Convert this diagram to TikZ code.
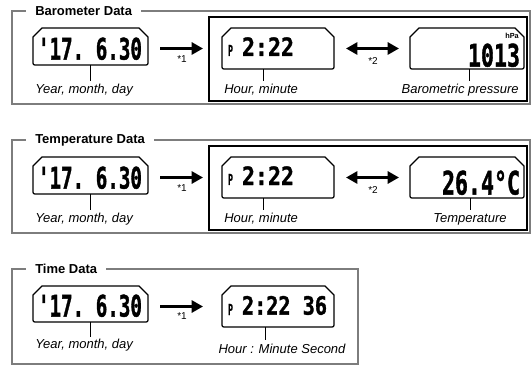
\documentclass[tikz,border=0pt]{standalone}
\usepackage{fontspec}
\usepackage{graphicx}
\setmainfont{Liberation Sans}
\newfontfamily\lcdf{DejaVu Sans Mono}[BoldFeatures={FakeBold=1.5}]
\usetikzlibrary{arrows.meta,calc,fit}
\definecolor{framegray}{RGB}{125,125,125}
\tikzset{
  frame/.style={draw=framegray, line width=1.5pt},
  blackbox/.style={draw=black, line width=1.5pt},
  lcdline/.style={draw=black, line width=0.9pt},
  lcdarea/.style={inner sep=0pt, outer sep=0pt},
  digits/.style={inner sep=0pt, outer sep=0pt},
  title/.style={fill=white, inner xsep=6.75pt, inner ysep=1pt, anchor=west,
    font=\bfseries\fontsize{9.75}{11}\selectfont},
  lbl/.style={inner sep=0pt, font=\itshape\fontsize{9.75}{11}\selectfont},
  note/.style={inner sep=0pt, font=\fontsize{7.5}{9}\selectfont},
  unit/.style={inner sep=0pt, font=\bfseries\fontsize{5.5}{6}\selectfont},
  arr/.style={line width=2.2pt, -{Triangle[length=8.5pt,width=9pt]}},
  darr/.style={line width=2.2pt, {Triangle[length=8.5pt,width=9pt]}-{Triangle[length=8.5pt,width=9pt]}},
  tick/.style={line width=0.75pt}
}
\newcommand\lcdshape[1]{%
  \draw[lcdline] ($(#1.north west)+(0,9)$) -- ($(#1.north west)+(9,0)$)
    -- ($(#1.north east)+(-9,0)$) -- ($(#1.north east)+(0,9)$)
    -- ($(#1.south east)+(0,-4)$) .. controls (#1.south east) .. ($(#1.south east)+(-4,0)$)
    -- ($(#1.south west)+(4,0)$) .. controls (#1.south west) .. ($(#1.south west)+(0,-4)$)
    -- cycle;}
\newcommand\lcdtxt[3]{\resizebox{#1}{#2}{\lcdf\bfseries #3}}
\begin{document}
\begin{tikzpicture}[x=0.75pt,y=-0.75pt]
\useasboundingbox (0,0) rectangle (531,374);

% ================= Barometer Data =================
\draw[frame] (12,11) rectangle (530,104);
\node[title] (t1) at (26,11) {Barometer Data};
\draw[blackbox] (209,17) rectangle (527,101);

\node[lcdarea, fit={(33,28) (148,65)}] (lcdA1) {};
\node[lcdarea, fit={(222,28) (334,69)}] (lcdB1) {};
\node[lcdarea, fit={(410,28) (524,69)}] (lcdC1) {};
\lcdshape{lcdA1}\lcdshape{lcdB1}\lcdshape{lcdC1}

\node[digits, anchor=south west] (dA1) at (38,60) {\lcdtxt{78pt}{16.5pt}{\textquotesingle 17.\ 6.30}};
\node[digits, anchor=south west] (pB1) at (228,56) {\lcdtxt{3.75pt}{8.25pt}{P}};
\node[digits, anchor=south west] (dB1) at (242,56) {\lcdtxt{39pt}{14pt}{2:22}};
\node[digits, anchor=south east] (dC1) at (520,67) {\lcdtxt{39pt}{17.25pt}{1013}};
\node[unit, anchor=north east] (uC1) at (519,33) {hPa};

\draw[arr] ($(lcdA1.east |- lcdB1.west)+(12,0)$) -- ($(lcdB1.west)+(-19,0)$);
\node[note] (n1a) at (182,59) {*1};
\draw[darr] ($(lcdB1.east)+(12,0)$) -- ($(lcdC1.west)+(-11,0)$);
\node[note] (n2a) at (373,61) {*2};

\coordinate (tA1) at (90,81);
\coordinate (tB1) at (263,81);
\coordinate (tC1) at (469,81);
\draw[tick] (lcdA1.south -| tA1) -- (tA1);
\draw[tick] (lcdB1.south -| tB1) -- (tB1);
\draw[tick] (lcdC1.south -| tC1) -- (tC1);
\node[lbl, anchor=west] (lA1) at (35,90) {Year, month, day};
\node[lbl, anchor=west] (lB1) at (224,90) {Hour, minute};
\node[lbl, anchor=east] (lC1) at (519,90) {Barometric pressure};

% ================= Temperature Data =================
\draw[frame] (12,140) rectangle (530,233);
\node[title] (t2) at (26,140) {Temperature Data};
\draw[blackbox] (209,146) rectangle (527,230);

\node[lcdarea, fit={(33,157) (148,194)}] (lcdA2) {};
\node[lcdarea, fit={(222,157) (334,198)}] (lcdB2) {};
\node[lcdarea, fit={(410,157) (524,198)}] (lcdC2) {};
\lcdshape{lcdA2}\lcdshape{lcdB2}\lcdshape{lcdC2}

\node[digits, anchor=south west] (dA2) at (38,189) {\lcdtxt{78pt}{16.5pt}{\textquotesingle 17.\ 6.30}};
\node[digits, anchor=south west] (pB2) at (228,185) {\lcdtxt{3.75pt}{8.25pt}{P}};
\node[digits, anchor=south west] (dB2) at (242,185) {\lcdtxt{39pt}{14pt}{2:22}};
\node[digits, anchor=south east] (dC2) at (520,195) {\lcdtxt{58.5pt}{18pt}{26.4°C}};

\draw[arr] ($(lcdA2.east |- lcdB2.west)+(12,0)$) -- ($(lcdB2.west)+(-19,0)$);
\node[note] (n1b) at (182,188) {*1};
\draw[darr] ($(lcdB2.east)+(12,0)$) -- ($(lcdC2.west)+(-11,0)$);
\node[note] (n2b) at (373,190) {*2};

\coordinate (tA2) at (90,210);
\coordinate (tB2) at (263,210);
\coordinate (tC2) at (470,210);
\draw[tick] (lcdA2.south -| tA2) -- (tA2);
\draw[tick] (lcdB2.south -| tB2) -- (tB2);
\draw[tick] (lcdC2.south -| tC2) -- (tC2);
\node[lbl, anchor=west] (lA2) at (35,219) {Year, month, day};
\node[lbl, anchor=west] (lB2) at (224,219) {Hour, minute};
\node[lbl] (lC2) at (470,219) {Temperature};

% ================= Time Data =================
\draw[frame] (12,269) rectangle (358,364);
\node[title] (t3) at (26,269) {Time Data};

\node[lcdarea, fit={(33,286) (148,322)}] (lcdA3) {};
\node[lcdarea, fit={(222,286) (334,327)}] (lcdB3) {};
\lcdshape{lcdA3}\lcdshape{lcdB3}

\node[digits, anchor=south west] (dA3) at (38,317) {\lcdtxt{78pt}{16.5pt}{\textquotesingle 17.\ 6.30}};
\node[digits, anchor=south west] (pB3) at (228,315) {\lcdtxt{3.75pt}{8.25pt}{P}};
\node[digits, anchor=south west] (dB3) at (242,315) {\lcdtxt{63.75pt}{14pt}{2:22 36}};

\draw[arr] ($(lcdA3.east |- lcdB3.west)+(12,0)$) -- ($(lcdB3.west)+(-19,0)$);
\node[note] (n1c) at (182,316) {*1};

\coordinate (tA3) at (90,337);
\coordinate (tB3) at (265,340);
\draw[tick] (lcdA3.south -| tA3) -- (tA3);
\draw[tick] (lcdB3.south -| tB3) -- (tB3);
\node[lbl, anchor=west] (lA3) at (35,345) {Year, month, day};
\node[lbl] (lB3) at (282,349) {Hour : Minute Second};
\end{tikzpicture}
\end{document}
